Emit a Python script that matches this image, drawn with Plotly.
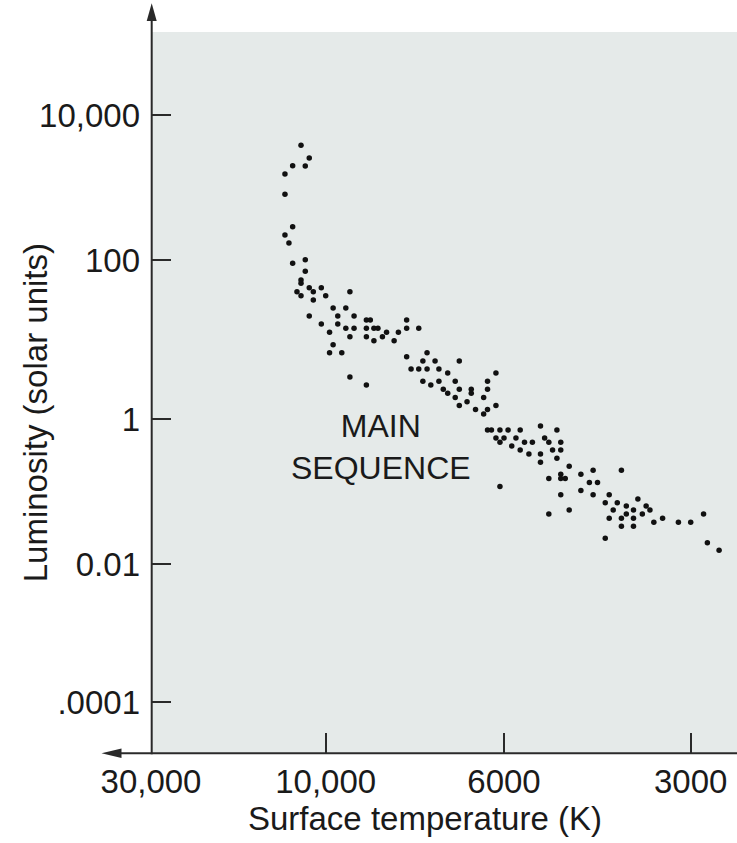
import numpy as np
import plotly.graph_objects as go

# Main-sequence stars: surface temperature (K) and luminosity (solar units)
temperature_k = [
    11680, 11090, 12310, 11370, 12920, 12920, 12310, 12920, 12600, 12310,
    11370, 11370, 11680, 11680, 11980, 11680, 11090, 10810, 10280, 10000,
    10810, 9330, 9790, 9440, 9660, 9220, 11090, 10280, 9660, 9440,
    9220, 8900, 8800, 8900, 8710, 8610, 8400, 8120, 7930, 7930,
    7660, 9890, 9330, 8900, 8500, 8710, 8220, 9790, 9890, 9550,
    7930, 7480, 7570, 7310, 6820, 9330, 8900, 7830, 7660, 7480,
    7230, 7050, 6140, 7570, 7400, 7230, 6900, 6290, 7140, 6820,
    6590, 6590, 6290, 7050, 6900, 6360, 6670, 6820, 6140, 6510,
    6290, 6360, 6290, 6220, 6070, 5910, 5650, 5240, 4930, 6140,
    6000, 6070, 5740, 5560, 5400, 5830, 5650, 5470, 5160, 5080,
    4860, 5010, 4860, 5240, 5240, 4930, 4710, 6070, 5080, 4860,
    4860, 4780, 4510, 4310, 4370, 4240, 4510, 4310, 4860, 5080,
    4710, 3880, 4060, 4120, 3940, 3650, 3810, 4000, 3710, 3540,
    3490, 3590, 3810, 4060, 3880, 3710, 3440, 3330, 3140, 3000,
    2860, 3880, 3710, 4120, 2820, 2700,
]

luminosity_sun = [
    3860, 2580, 2020, 2000, 1550, 813, 291, 223, 173, 91.7,
    102, 72.7, 56.5, 51.4, 40.3, 35.9, 45.2, 40.3, 45.2, 35.9,
    31.7, 40.3, 25.1, 25.1, 19.9, 19.9, 19.9, 15.8, 15.8, 14.0,
    14.0, 17.7, 17.7, 14.0, 14.0, 14.0, 12.4, 12.4, 17.7, 14.0,
    14.0, 12.4, 10.9, 10.9, 10.9, 9.74, 9.74, 8.68, 6.88, 6.88,
    6.11, 6.88, 5.41, 5.41, 5.41, 3.40, 2.70, 4.29, 4.29, 4.29,
    4.29, 3.82, 3.82, 3.01, 2.70, 3.01, 3.01, 3.01, 2.38, 2.38,
    2.38, 2.12, 2.38, 2.12, 1.88, 1.88, 1.66, 1.49, 1.49, 1.33,
    1.33, 1.17, 0.712, 0.712, 0.712, 0.712, 0.712, 0.808, 0.712, 0.552,
    0.552, 0.482, 0.552, 0.482, 0.482, 0.428, 0.377, 0.332, 0.552, 0.482,
    0.482, 0.377, 0.377, 0.332, 0.255, 0.290, 0.225, 0.118, 0.152, 0.174,
    0.152, 0.152, 0.174, 0.198, 0.134, 0.134, 0.104, 0.0912, 0.0912, 0.0494,
    0.0561, 0.198, 0.0912, 0.0707, 0.0707, 0.0796, 0.0637, 0.0561, 0.0561, 0.0637,
    0.0561, 0.0494, 0.0494, 0.0431, 0.0431, 0.0431, 0.0380, 0.0431, 0.0380, 0.0380,
    0.0494, 0.0334, 0.0334, 0.0228, 0.0199, 0.0156,
]

x_tick_temps = [30000, 10000, 6000, 3000]
x_tick_text = ["30,000", "10,000", "6000", "3000"]
y_tick_lums = [1e4, 1e2, 1, 1e-2, 1e-4]
y_tick_text = ["10,000", "100", "1", "0.01", ".0001"]

# Page geometry
W, H = 737, 843
ML, MR, MT, MB = 151, 0, 32, 90
PW, PH = W - ML - MR, H - MT - MB

# The printed scales are piecewise logarithmic: each labelled tick sits at
# its own place along the axis (axis units are screen pixels of the plot area).
X_TICK_POS = [0.0, 174.7, 353.0, 539.7]
Y_TICK_POS = [637.7, 492.7, 333.7, 188.7, 50.7]


def piecewise_log(values, anchors, positions):
    lv = np.log10(np.asarray(values, float))
    la = np.log10(np.asarray(anchors, float))
    pos = np.asarray(positions, float)
    order = np.argsort(la)
    la, pos = la[order], pos[order]
    out = np.interp(lv, la, pos)
    lo = lv < la[0]
    out[lo] = pos[0] + (lv[lo] - la[0]) * (pos[1] - pos[0]) / (la[1] - la[0])
    hi = lv > la[-1]
    out[hi] = pos[-1] + (lv[hi] - la[-1]) * (pos[-1] - pos[-2]) / (la[-1] - la[-2])
    return out


def temp_axis(t):
    return piecewise_log(t, x_tick_temps, X_TICK_POS)


def lum_axis(l):
    return piecewise_log(l, y_tick_lums, Y_TICK_POS)


FONT = "Liberation Sans, Arial, Helvetica, sans-serif"
INK = "#1a1a1a"
AXIS = "#2a2a2a"
BG = "#e5eae9"

fig = go.Figure()
fig.add_trace(go.Scatter(
    x=temp_axis(temperature_k),
    y=lum_axis(luminosity_sun),
    mode="markers",
    marker=dict(size=5.5, color="#111111", line=dict(width=0)),
    hoverinfo="skip",
    showlegend=False,
    cliponaxis=False,
))


def px(xp):
    return (xp - ML) / PW


def py(yp):
    return (H - MB - yp) / PH


shapes = [
    # horizontal axis, extended to the left and ending in an arrowhead
    dict(type="line", xref="paper", yref="paper",
         x0=px(118), x1=px(W), y0=py(753.3), y1=py(753.3),
         line=dict(color=AXIS, width=2)),
    dict(type="path", xref="paper", yref="paper",
         path=f"M{px(101.5)},{py(753.3)} L{px(121.5)},{py(748.6)} "
              f"L{px(121.5)},{py(758.0)} Z",
         fillcolor=AXIS, line=dict(width=0)),
    # vertical axis, extended upward and ending in an arrowhead
    dict(type="line", xref="paper", yref="paper",
         x0=px(151.7), x1=px(151.7), y0=py(754.3), y1=py(18),
         line=dict(color=AXIS, width=2)),
    dict(type="path", xref="paper", yref="paper",
         path=f"M{px(151.7)},{py(3.3)} L{px(146.7)},{py(21)} "
              f"L{px(156.7)},{py(21)} Z",
         fillcolor=AXIS, line=dict(width=0)),
]

annotations = [
    dict(text="MAIN<br>SEQUENCE", xref="x", yref="y",
         x=381 - ML, y=H - MB - 447, showarrow=False,
         align="center", xanchor="center", yanchor="middle",
         font=dict(family=FONT, size=32, color=INK)),
    dict(text="Surface temperature (K)", xref="paper", yref="paper",
         x=px(424.7), y=py(818.5), showarrow=False,
         xanchor="center", yanchor="middle",
         font=dict(family=FONT, size=33, color=INK)),
    dict(text="Luminosity (solar units)", xref="paper", yref="paper",
         x=px(35.3), y=py(413), showarrow=False, textangle=-90,
         xanchor="center", yanchor="middle",
         font=dict(family=FONT, size=33, color=INK)),
]

fig.update_layout(
    width=W, height=H,
    margin=dict(l=ML, r=MR, t=MT, b=MB, pad=0),
    paper_bgcolor="white",
    plot_bgcolor=BG,
    font=dict(family=FONT, color=INK),
    shapes=shapes,
    annotations=annotations,
    xaxis=dict(
        range=[0, PW], tickmode="array",
        tickvals=temp_axis(x_tick_temps), ticktext=x_tick_text,
        ticks="inside", ticklen=20, tickwidth=1.6, tickcolor=AXIS,
        showline=False, showgrid=False, zeroline=False,
        tickfont=dict(family=FONT, size=33, color=INK),
        ticklabelstandoff=6, fixedrange=True,
    ),
    yaxis=dict(
        range=[0, PH], tickmode="array",
        tickvals=lum_axis(y_tick_lums), ticktext=y_tick_text,
        ticks="inside", ticklen=20, tickwidth=1.6, tickcolor=AXIS,
        showline=False, showgrid=False, zeroline=False,
        tickfont=dict(family=FONT, size=33, color=INK),
        ticklabelstandoff=10, fixedrange=True,
    ),
)

fig.write_html("out.html")
